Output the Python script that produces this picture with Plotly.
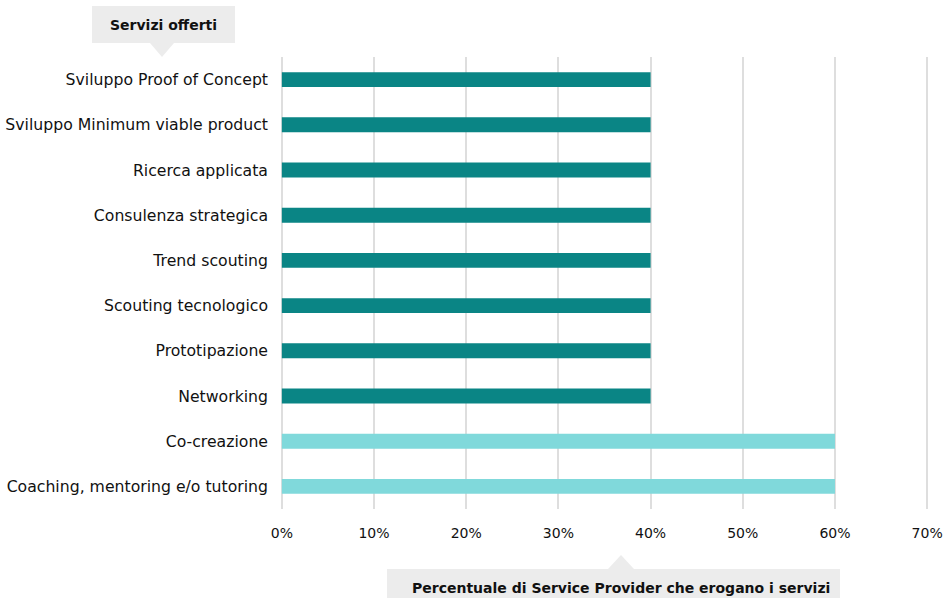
import plotly.graph_objects as go

categories = [
    "Sviluppo Proof of Concept",
    "Sviluppo Minimum viable product",
    "Ricerca applicata",
    "Consulenza strategica",
    "Trend scouting",
    "Scouting tecnologico",
    "Prototipazione",
    "Networking",
    "Co-creazione",
    "Coaching, mentoring e/o tutoring",
]
values = [40, 40, 40, 40, 40, 40, 40, 40, 60, 60]
bar_colors = ["#0a8585"] * 8 + ["#80d9db"] * 2
x_ticks = [0, 10, 20, 30, 40, 50, 60, 70]
x_tick_labels = [f"{v}%" for v in x_ticks]
y_title = "Servizi offerti"
x_title = "Percentuale di Service Provider che erogano i servizi"

W, H = 950, 598
L, R, T, B = 280, 21, 57, 89
pw, ph = W - L - R, H - T - B

def px(x):
    return (x - L) / pw

def py(y):
    return (H - B - y) / ph

fig = go.Figure(go.Bar(
    y=categories, x=values, orientation="h",
    marker=dict(color=bar_colors, line=dict(width=0)),
    width=0.33, hoverinfo="skip",
))

font = "DejaVu Sans, sans-serif"
fig.update_layout(
    width=W, height=H, autosize=False,
    margin=dict(l=L, r=R, t=T, b=B, pad=0, autoexpand=False),
    paper_bgcolor="white", plot_bgcolor="white",
    showlegend=False,
    font=dict(family=font, size=14, color="#111111"),
    xaxis=dict(range=[-0.2, 70.2], tickvals=x_ticks, ticktext=x_tick_labels,
               showgrid=True, gridcolor="#dedede", gridwidth=2, automargin=False,
               zeroline=False, showline=False, ticks="", ticklabelstandoff=14,
               tickfont=dict(size=14)),
    yaxis=dict(type="category", range=[9.5, -0.5], showgrid=False, automargin=False,
               ticks="", ticklabelstandoff=11, showline=False,
               tickfont=dict(size=15.7)),
)

shapes = [
    dict(type="rect", xref="paper", yref="paper", x0=px(92), x1=px(235), y0=py(43), y1=py(6),
         fillcolor="#ececec", line=dict(width=0), layer="above"),
    dict(type="path", xref="paper", yref="paper",
         path=f"M {px(150)},{py(43)} L {px(174)},{py(43)} L {px(162)},{py(57)} Z",
         fillcolor="#ececec", line=dict(width=0), layer="above"),
    dict(type="rect", xref="paper", yref="paper", x0=px(387), x1=px(840), y0=py(598), y1=py(569),
         fillcolor="#ececec", line=dict(width=0), layer="above"),
    dict(type="path", xref="paper", yref="paper",
         path=f"M {px(608)},{py(569)} L {px(634)},{py(569)} L {px(621)},{py(555)} Z",
         fillcolor="#ececec", line=dict(width=0), layer="above"),
]
fig.update_layout(shapes=shapes)
fig.add_annotation(xref="paper", yref="paper", x=px(163), y=py(25), text=f"<b>{y_title}</b>",
                   showarrow=False, xanchor="center", yanchor="middle",
                   font=dict(family=font, size=14, color="#111111"))
fig.add_annotation(xref="paper", yref="paper", x=px(621), y=py(587.5), text=f"<b>{x_title}</b>",
                   showarrow=False, xanchor="center", yanchor="middle",
                   font=dict(family=font, size=14, color="#111111"))

fig.write_html("out.html")
